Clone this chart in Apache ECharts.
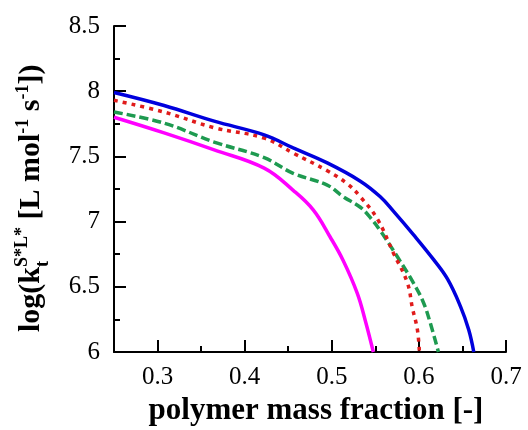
<!DOCTYPE html>
<html>
<head>
<meta charset="utf-8">
<script src="https://cdn.jsdelivr.net/npm/echarts@6/dist/echarts.min.js"></script>
<style>html,body{margin:0;padding:0;background:#fff}#c{width:528px;height:430px}</style>
</head>
<body>
<div id="c"></div>
<script>
// ---- data ----
const blueX = [0.25, 0.3075, 0.365, 0.4224, 0.4557, 0.4948, 0.5328, 0.5557, 0.5707, 0.5937, 0.6167, 0.6328, 0.6477, 0.6572, 0.663];
const blueY = [7.99, 7.89, 7.77, 7.665, 7.565, 7.45, 7.31, 7.19, 7.08, 6.90, 6.71, 6.56, 6.35, 6.17, 6.0];
const redX = [0.25, 0.3075, 0.365, 0.4224, 0.4557, 0.4948, 0.5178, 0.5328, 0.5523, 0.5707, 0.5868, 0.5925, 0.5983, 0.6006];
const redY = [7.93, 7.84, 7.72, 7.64, 7.525, 7.39, 7.29, 7.19, 7.02, 6.76, 6.53, 6.34, 6.17, 6.0];
const greenX = [0.25, 0.3075, 0.365, 0.4224, 0.4557, 0.4948, 0.5132, 0.5328, 0.5443, 0.5557, 0.5753, 0.5937, 0.6052, 0.6132, 0.6224];
const greenY = [7.84, 7.755, 7.61, 7.49, 7.37, 7.28, 7.19, 7.11, 7.03, 6.93, 6.73, 6.53, 6.38, 6.22, 6.0];
const magentaX = [0.25, 0.3075, 0.365, 0.4224, 0.4557, 0.4787, 0.4983, 0.5132, 0.5293, 0.5385, 0.5477];
const magentaY = [7.80, 7.68, 7.55, 7.41, 7.24, 7.09, 6.88, 6.70, 6.45, 6.24, 6.0];
const xMajorTicks = [0.3, 0.4, 0.5, 0.6, 0.7];
const xMinorTicks = [0.35, 0.45, 0.55, 0.65];

const pair = (xs, ys) => xs.map((x, i) => [x, ys[i]]);
const FF = 'Liberation Serif';

const cnv = document.createElement('canvas').getContext('2d');
function tw(t, size) { cnv.font = 'bold ' + size + 'px ' + FF; return cnv.measureText(t).width; }

// y-axis title pieces (rotated group)
const BIG = 30, SM = 18, XT = 31;
const midB = -0.3375 * BIG, midS = -0.3375 * SM;
const pieces = [];
let cx = 0;
function txt(t, size, x, base) {
  return { type: 'text', style: { text: t, x: x, y: base + (size === BIG ? midB : midS), fontFamily: FF, fontWeight: 'bold', fontSize: size, fill: '#000', align: 'left', verticalAlign: 'middle' } };
}
function add(t, size, base) { pieces.push(txt(t, size, cx, base)); cx += tw(t, size); }
add('log(k', BIG, 0);
const cx0 = cx;
pieces.push(txt('t', SM, cx0, 8));
add('S*L*', SM, -13);
cx = Math.max(cx, cx0 + tw('t', SM));
add(' [L mol', BIG, 0);
add('-1', SM, -12);
add(' s', BIG, 0);
add('-1', SM, -12);
add('])', BIG, 0);

const tickStyle = { color: '#000', width: 2 };
const option = {
  animation: false,
  backgroundColor: '#fff',
  grid: { left: 114, top: 26, width: 392, height: 326 },
  xAxis: [{
    type: 'value', min: 0.25, max: 0.7,
    axisLine: { show: true, onZero: false, lineStyle: tickStyle },
    axisTick: { show: true, inside: true, length: 12, lineStyle: tickStyle, customValues: xMajorTicks },
    axisLabel: { customValues: xMajorTicks, color: '#000', fontFamily: FF, fontSize: 25, margin: 13, formatter: v => v.toFixed(1) },
    splitLine: { show: false }
  }, {
    type: 'value', min: 0.25, max: 0.7, position: 'bottom',
    axisLine: { show: false },
    axisTick: { show: true, inside: true, length: 6, lineStyle: tickStyle, customValues: xMinorTicks },
    axisLabel: { show: false, customValues: xMinorTicks },
    splitLine: { show: false }
  }],
  yAxis: {
    type: 'value', min: 6, max: 8.5, interval: 0.5,
    axisLine: { show: true, onZero: false, lineStyle: tickStyle },
    axisTick: { show: true, inside: true, length: 12, lineStyle: tickStyle },
    minorTick: { show: true, splitNumber: 2, length: 6, lineStyle: tickStyle },
    axisLabel: { color: '#000', fontFamily: FF, fontSize: 25, margin: 14 },
    splitLine: { show: false }
  },
  graphic: [
    { type: 'group', x: 41, y: 332, rotation: Math.PI / 2, children: pieces },
    { type: 'text', style: { text: 'polymer mass fraction [-]', x: 316, y: 421 - 0.3375 * XT, fontFamily: FF, fontWeight: 'bold', fontSize: XT, fill: '#000', align: 'center', verticalAlign: 'middle' } }
  ],
  series: [
    { type: 'line', data: pair(magentaX, magentaY), showSymbol: false, smooth: 0.4, lineStyle: { color: '#ff00ff', width: 3.5 } },
    { type: 'line', data: pair(greenX, greenY), showSymbol: false, smooth: 0.4, lineStyle: { color: '#1e9a50', width: 3.5, type: [9, 4] } },
    { type: 'line', data: pair(redX, redY), showSymbol: false, smooth: 0.4, lineStyle: { color: '#e01b1b', width: 3.5, type: [4, 5] } },
    { type: 'line', data: pair(blueX, blueY), showSymbol: false, smooth: 0.4, lineStyle: { color: '#0000dd', width: 3.5 } }
  ]
};
const chart = echarts.init(document.getElementById('c'), null, { renderer: 'canvas' });
chart.setOption(option);
</script>
</body>
</html>
